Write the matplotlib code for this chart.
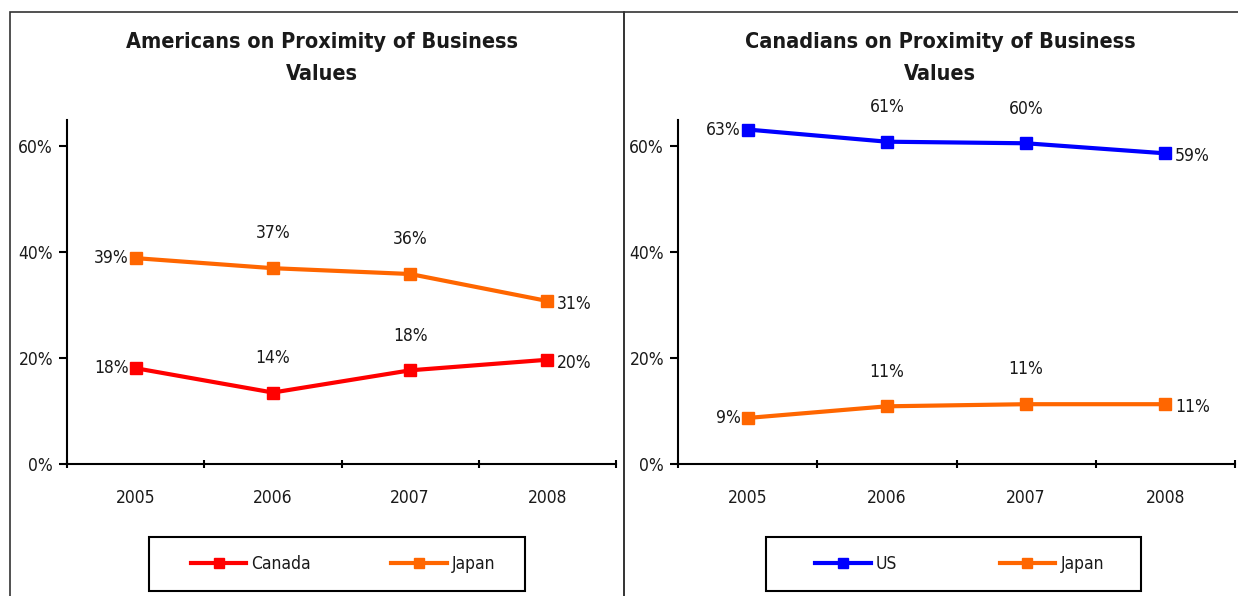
import matplotlib
matplotlib.use("Agg")
import matplotlib.pyplot as plt
from matplotlib.patches import Rectangle

years = ["2005", "2006", "2007", "2008"]

# left panel: Americans
us_view_canada = [0.181, 0.135, 0.177, 0.197]
us_view_canada_lbl = ["18%", "14%", "18%", "20%"]
us_view_japan = [0.389, 0.370, 0.359, 0.308]
us_view_japan_lbl = ["39%", "37%", "36%", "31%"]

# right panel: Canadians
ca_view_us = [0.632, 0.609, 0.606, 0.587]
ca_view_us_lbl = ["63%", "61%", "60%", "59%"]
ca_view_japan = [0.087, 0.109, 0.113, 0.113]
ca_view_japan_lbl = ["9%", "11%", "11%", "11%"]

yticks = [0.0, 0.2, 0.4, 0.6]
ytick_lbl = ["0%", "20%", "40%", "60%"]

plt.rcParams["font.family"] = ["DejaVu Sans"]
plt.rcParams["font.stretch"] = "condensed"
plt.rcParams["text.color"] = "#1a1a1a"
plt.rcParams["xtick.labelcolor"] = "#1a1a1a"
plt.rcParams["ytick.labelcolor"] = "#1a1a1a"

RED = "#ff0000"
ORANGE = "#ff6600"
BLUE = "#0000ff"

W, H = 1238, 596
fig = plt.figure(figsize=(W / 100, H / 100), dpi=100)

# panel frames
fig.add_artist(Rectangle((10 / W, -0.1), (624 - 10) / W, 1 - 12 / H + 0.1,
                         transform=fig.transFigure, fill=False,
                         edgecolor="#333333", lw=1.2))
fig.add_artist(Rectangle((624 / W, -0.1), 1, 1 - 12 / H + 0.1,
                         transform=fig.transFigure, fill=False,
                         edgecolor="#333333", lw=1.2))


def panel(x0, x1, title, tcx, series):
    ax = fig.add_axes([x0 / W, 1 - 464 / H, (x1 - x0) / W, (464 - 120) / H])
    xs = range(len(years))
    handles = []
    for vals, lbls, col, name in series:
        h, = ax.plot(xs, vals, color=col, lw=3, marker="s", ms=9,
                     mec=col, mfc=col, label=name, clip_on=False)
        handles.append(h)
        for i, (v, t) in enumerate(zip(vals, lbls)):
            if i == 0:
                ax.annotate(t, (i, v), xytext=(-5, 0), textcoords="offset points",
                            ha="right", va="center", fontsize=12.5)
            elif i == len(vals) - 1:
                ax.annotate(t, (i, v), xytext=(7, -2), textcoords="offset points",
                            ha="left", va="center", fontsize=12.5)
            else:
                ax.annotate(t, (i, v), xytext=(0, 25), textcoords="offset points",
                            ha="center", va="center", fontsize=12.5)
    ax.set_xlim(-0.5, 3.5)
    ax.set_ylim(0, 0.65)
    ax.set_yticks(yticks)
    ax.set_yticklabels(ytick_lbl, fontsize=12.5)
    ax.set_xticks(list(xs))
    ax.set_xticklabels(years, fontsize=12.5)
    ax.set_xticks([-0.5, 0.5, 1.5, 2.5, 3.5], minor=True)
    ax.tick_params(axis="x", which="major", length=0, pad=18)
    ax.tick_params(axis="x", which="minor", length=6, width=1.5, direction="inout")
    ax.tick_params(axis="y", length=6, width=1.5, pad=4)
    for s in ("top", "right"):
        ax.spines[s].set_visible(False)
    for s in ("left", "bottom"):
        ax.spines[s].set_linewidth(1.5)
    fig.text(tcx / W, 1 - 58 / H, title, ha="center", va="center",
             fontsize=15.5, fontweight="bold", linespacing=1.8)
    return ax, handles


axl, hl = panel(67, 616, "Americans on Proximity of Business\nValues", 322,
                [(us_view_canada, us_view_canada_lbl, RED, "Canada"),
                 (us_view_japan, us_view_japan_lbl, ORANGE, "Japan")])
axr, hr = panel(678, 1235, "Canadians on Proximity of Business\nValues", 940,
                [(ca_view_us, ca_view_us_lbl, BLUE, "US"),
                 (ca_view_japan, ca_view_japan_lbl, ORANGE, "Japan")])

# legends: fixed frame drawn separately, entries centred inside
for hs, lx0, lx1, cs in [(hl, 149, 525, 4.6), (hr, 766, 1141, 5.9)]:
    fig.add_artist(Rectangle((lx0 / W, 1 - 591 / H), (lx1 - lx0) / W, 54 / H,
                             transform=fig.transFigure, fill=False,
                             edgecolor="black", lw=1.5))
    fig.legend(handles=hs, loc="center",
               bbox_to_anchor=((lx0 + lx1) / 2 / W + 6 / W, 1 - 564 / H),
               ncol=2, fontsize=12.5, frameon=False, handlelength=3.2,
               handletextpad=0.3, markerscale=0.85, columnspacing=cs)

fig.savefig("out.png", dpi=100, facecolor="white")
